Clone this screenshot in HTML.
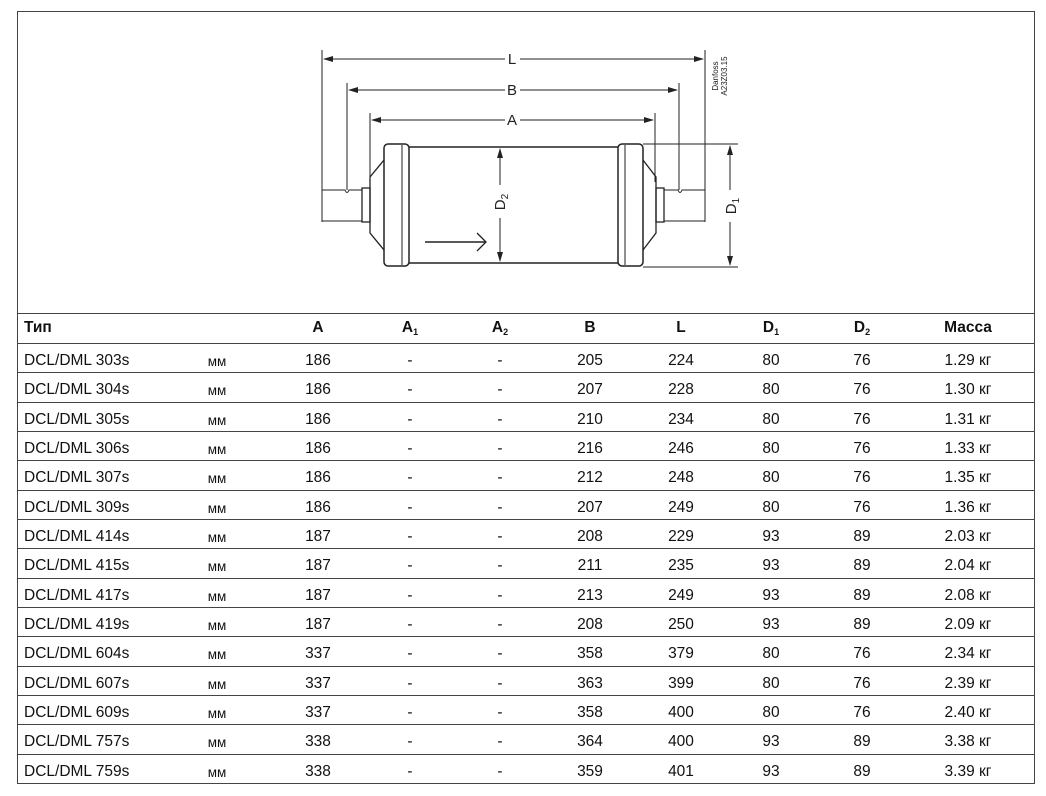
<!DOCTYPE html>
<html><head><meta charset="utf-8"><style>
body{margin:0;width:1046px;height:796px;background:#fff;position:relative;overflow:hidden;font-family:"Liberation Sans","DejaVu Sans",sans-serif;color:#111}
.frame{position:absolute;left:17px;top:11px;width:1016px;height:771px;border:1.5px solid #444}
.hline{position:absolute;left:17px;width:1018px;height:0;border-top:1.5px solid #444}
.cell{position:absolute;font-size:15.5px;text-align:center;transform:translateX(-50%);white-space:nowrap}
.b{font-weight:bold}
sub{font-size:9px;vertical-align:-3px}
</style></head><body>
<div class="frame"></div>
<svg style="position:absolute;left:0;top:0" width="1046" height="320" viewBox="0 0 1046 320">
<g stroke="#222" fill="none" stroke-width="1">
<line x1="322" y1="50" x2="322" y2="222"/><line x1="705" y1="50" x2="705" y2="222"/>
<line x1="347" y1="83" x2="347" y2="190"/><line x1="679" y1="83" x2="679" y2="190"/>
<line x1="370" y1="113" x2="370" y2="180"/><line x1="655" y1="113" x2="655" y2="182"/>
<line x1="324" y1="59" x2="505" y2="59"/><line x1="520" y1="59" x2="703" y2="59"/>
<line x1="349" y1="90" x2="505" y2="90"/><line x1="520" y1="90" x2="677" y2="90"/>
<line x1="372" y1="120" x2="505" y2="120"/><line x1="520" y1="120" x2="653" y2="120"/>
<path d="M322 190 H345 Q347 195 349 190 H362 V221 H322"/>
<path d="M705 190 H682 Q680 195 678 190 H664 V221 H705"/>
<rect x="362" y="188" width="8" height="34" stroke-width="1.3"/>
<rect x="656" y="188" width="8" height="34" stroke-width="1.3"/>
<path d="M384 160 L370 177 V233 L384 250" stroke-width="1.3"/>
<path d="M643 160 L656 177 V233 L643 250" stroke-width="1.3"/>
<rect x="384" y="144" width="25" height="122" rx="4" stroke-width="1.5"/>
<line x1="402" y1="145" x2="402" y2="265"/>
<rect x="618" y="144" width="25" height="122" rx="4" stroke-width="1.5"/>
<line x1="625" y1="145" x2="625" y2="265"/>
<line x1="409" y1="147" x2="618" y2="147" stroke-width="1.5"/>
<line x1="409" y1="263" x2="618" y2="263" stroke-width="1.5"/>
<line x1="643" y1="144" x2="738" y2="144"/><line x1="643" y1="267" x2="738" y2="267"/>
<line x1="730" y1="146" x2="730" y2="190"/><line x1="730" y1="222" x2="730" y2="265"/>
<line x1="500" y1="149" x2="500" y2="185"/><line x1="500" y1="218" x2="500" y2="261"/>
<line x1="425" y1="242" x2="485" y2="242" stroke-width="1.5"/>
<path d="M477 233 L486 242 L477 251" stroke-width="1.3"/>
</g>
<g fill="#222">
<path d="M323 59 l10 -3 v6z"/><path d="M704 59 l-10 -3 v6z"/>
<path d="M348 90 l10 -3 v6z"/><path d="M678 90 l-10 -3 v6z"/>
<path d="M371 120 l10 -3 v6z"/><path d="M654 120 l-10 -3 v6z"/>
<path d="M730 145 l-3 10 h6z"/><path d="M730 266 l-3 -10 h6z"/>
<path d="M500 148 l-3 10 h6z"/><path d="M500 262 l-3 -10 h6z"/>
</g>
<g font-family="Liberation Sans,sans-serif" font-size="15" fill="#222" text-anchor="middle">
<text x="512" y="64">L</text><text x="512" y="95">B</text><text x="512" y="125">A</text>
<text transform="translate(505,202) rotate(-90)">D<tspan font-size="10" dy="3">2</tspan></text>
<text transform="translate(736,206) rotate(-90)">D<tspan font-size="10" dy="3">1</tspan></text>
<text transform="translate(718,76) rotate(-90)" font-size="8">Danfoss</text>
<text transform="translate(727,76) rotate(-90)" font-size="8">A23Z03.15</text>
</g>
</svg>
<div class="hline" style="top:313px"></div>
<div class="hline" style="top:343px"></div>
<div class="hline" style="top:372px"></div>
<div class="hline" style="top:402px"></div>
<div class="hline" style="top:431px"></div>
<div class="hline" style="top:460px"></div>
<div class="hline" style="top:490px"></div>
<div class="hline" style="top:519px"></div>
<div class="hline" style="top:548px"></div>
<div class="hline" style="top:578px"></div>
<div class="hline" style="top:607px"></div>
<div class="hline" style="top:636px"></div>
<div class="hline" style="top:666px"></div>
<div class="hline" style="top:695px"></div>
<div class="hline" style="top:724px"></div>
<div class="hline" style="top:754px"></div>
<div id="t"></div>
<div class="cell b" style="left:24px;top:319px;transform:none">Тип</div>
<div class="cell b" style="left:318px;top:319px">A</div>
<div class="cell b" style="left:410px;top:319px">A<sub>1</sub></div>
<div class="cell b" style="left:500px;top:319px">A<sub>2</sub></div>
<div class="cell b" style="left:590px;top:319px">B</div>
<div class="cell b" style="left:681px;top:319px">L</div>
<div class="cell b" style="left:771px;top:319px">D<sub>1</sub></div>
<div class="cell b" style="left:862px;top:319px">D<sub>2</sub></div>
<div class="cell b" style="left:968px;top:319px">Масса</div>
<script>
var rows=[["303s",186,205,224,80,76,"1.29"],["304s",186,207,228,80,76,"1.30"],["305s",186,210,234,80,76,"1.31"],["306s",186,216,246,80,76,"1.33"],["307s",186,212,248,80,76,"1.35"],["309s",186,207,249,80,76,"1.36"],["414s",187,208,229,93,89,"2.03"],["415s",187,211,235,93,89,"2.04"],["417s",187,213,249,93,89,"2.08"],["419s",187,208,250,93,89,"2.09"],["604s",337,358,379,80,76,"2.34"],["607s",337,363,399,80,76,"2.39"],["609s",337,358,400,80,76,"2.40"],["757s",338,364,400,93,89,"3.38"],["759s",338,359,401,93,89,"3.39"]];
var h="";rows.forEach(function(r,i){var y=Math.round(352+i*29.33);
h+='<div class="cell" style="left:24px;top:'+y+'px;transform:none">DCL/DML '+r[0]+'</div>';
h+='<div class="cell" style="left:217px;top:'+(y+2)+'px;font-size:13.5px">мм</div>';
[[318,r[1]],[410,'-'],[500,'-'],[590,r[2]],[681,r[3]],[771,r[4]],[862,r[5]],[968,r[6]+' кг']].forEach(function(c){h+='<div class="cell" style="left:'+c[0]+'px;top:'+y+'px">'+c[1]+'</div>';});});
document.getElementById("t").innerHTML=h;
</script>
</body></html>
